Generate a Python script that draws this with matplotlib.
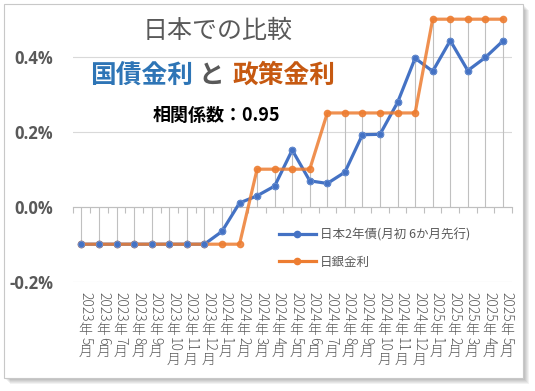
import matplotlib
matplotlib.use('Agg')
import matplotlib.pyplot as plt
from matplotlib.font_manager import FontProperties
from matplotlib.patches import Rectangle
import numpy as np

plt.rcParams['font.family'] = ['Noto Sans CJK JP', 'DejaVu Sans']

# data (percent)
years = ['2023'] * 8 + ['2024'] * 12 + ['2025'] * 5
months = ['5', '6', '7', '8', '9', '10', '11', '12',
          '1', '2', '3', '4', '5', '6', '7', '8', '9', '10', '11', '12',
          '1', '2', '3', '4', '5']
jgb2y = [-0.10, -0.10, -0.10, -0.10, -0.10, -0.10, -0.10, -0.10,
         -0.066, 0.010, 0.029, 0.055, 0.151, 0.069, 0.062, 0.092,
         0.192, 0.193, 0.278, 0.396, 0.361, 0.443, 0.363, 0.398, 0.442]
boj_rate = [-0.10, -0.10, -0.10, -0.10, -0.10, -0.10, -0.10, -0.10,
            -0.10, -0.10, 0.10, 0.10, 0.10, 0.10, 0.25, 0.25,
            0.25, 0.25, 0.25, 0.25, 0.50, 0.50, 0.50, 0.50, 0.50]
yticks = [-0.2, 0.0, 0.2, 0.4]

W, H = 535, 391
BLUE = '#4472C4'
ORANGE = '#ED7D31'
GRAY = '#595959'


def fx(px):
    return px / W


def fy(py):
    return 1 - py / H


fig = plt.figure(figsize=(W / 100, H / 100), dpi=100)
fig.patch.set_facecolor('white')

# card with drop shadow
for k in range(6):
    fig.patches.append(Rectangle((fx(4.3 + 1 + k), fy(377.7 + 1 + k)), fx(519), 373.4 / H,
                                 transform=fig.transFigure, facecolor='black',
                                 alpha=0.05, edgecolor='none', zorder=-3))
fig.patches.append(Rectangle((fx(4.3), fy(377.7)), fx(519), 373.4 / H,
                             transform=fig.transFigure, facecolor='white',
                             edgecolor='#c8c8c8', linewidth=0.8, zorder=-2))

ax = fig.add_axes([fx(72.7), fy(281.7), fx(511.7 - 72.7), (281.7 - 19.2) / H])
ax.set_facecolor('none')
x = np.arange(len(months))

ax.set_xlim(-0.5, len(months) - 0.5)
ax.set_ylim(-0.2, 0.5)

# drop lines
top = np.maximum(jgb2y, boj_rate)
ax.vlines(x, 0, top, color='#c0c0c0', linewidth=0.8, zorder=1)

ax.plot(x, jgb2y, color=BLUE, linewidth=2.3, zorder=3, label='日本2年債(月初 6か月先行)',
        marker='o', markersize=4.5)
ax.plot(x, boj_rate, color=ORANGE, linewidth=2.3, alpha=0.85, zorder=4,
        marker='o', markersize=4.5, clip_on=False)
ax.plot(x, jgb2y, linestyle='none', marker='o', markersize=4.5, color=BLUE,
        markeredgecolor='#6a8fd0', markeredgewidth=0.6, zorder=5)

# legend (manual handles so the style stays clean)
h1 = plt.Line2D([], [], color=BLUE, linewidth=2.3, marker='o', markersize=4.5)
h2 = plt.Line2D([], [], color=ORANGE, linewidth=2.3, marker='o', markersize=4.5)
leg = ax.legend([h1, h2], ['日本2年債(月初 6か月先行)', '日銀金利'],
                loc='center left', bbox_to_anchor=(0.4706, 0.127),
                frameon=False, fontsize=9, handlelength=2.9, handletextpad=0.35,
                labelspacing=1.15, borderpad=0, borderaxespad=0, markerscale=1)
for t in leg.get_texts():
    t.set_color(GRAY)

# y axis
ax.set_yticks(yticks)
ax.set_yticklabels([f'{v:.1f}%' for v in yticks], fontfamily='Open Sans',
                   fontweight='bold', fontsize=12, color=GRAY)
ax.tick_params(axis='y', length=0, pad=14)
ax.yaxis.grid(True, color='#d9d9d9', linewidth=0.8)
ax.set_axisbelow(True)
for s in ['left', 'right', 'top']:
    ax.spines[s].set_visible(False)

# category axis crossing at 0
ax.spines['bottom'].set_position(('data', 0))
ax.spines['bottom'].set_color('#bfbfbf')
ax.spines['bottom'].set_linewidth(0.8)
ax.set_xticks(x)
ax.set_xticklabels([])
ax.tick_params(axis='x', which='major', length=0)
ax.set_xticks(np.arange(len(months) + 1) - 0.5, minor=True)
ax.tick_params(axis='x', which='minor', length=4, direction='out', color='#bfbfbf', width=0.8)

# stacked vertical category labels
fp = FontProperties(family=['Noto Sans CJK JP'], weight='light', size=10)
renderer = fig.canvas.get_renderer()
em = 10 * 100 / 72 * 0.98
for i, (yr, mo) in enumerate(zip(years, months)):
    cur = 9.5
    for s, rot in [(yr, True), ('年', False), (mo, True), ('月', False)]:
        if rot:
            w = renderer.get_text_width_height_descent(s, fp, ismath=False)[0] * 1.08
        else:
            w = em
        ax.annotate(s, xy=(i, 0), xycoords=('data', 'axes fraction'),
                    xytext=(4, -(cur + w / 2)), textcoords='offset pixels',
                    rotation=-90 if rot else 0, ha='center', va='center',
                    fontproperties=fp, color=GRAY, annotation_clip=False)
        cur += w

# titles
fig.text(fx(218), fy(31.3), '日本での比較', fontsize=18, color=GRAY,
         ha='center', va='center')
fig.text(fx(90.5), fy(75), '国債金利', fontsize=18.5, fontweight='bold',
         color='#2E75B6', ha='left', va='center')
fig.text(fx(211.5), fy(75), 'と', fontsize=18.5, fontweight='bold',
         color=GRAY, ha='center', va='center')
fig.text(fx(232), fy(75), '政策金利', fontsize=18.5, fontweight='bold',
         color='#C65911', ha='left', va='center')
fig.text(fx(216.7), fy(115.7), '相関係数：0.95', fontsize=13, fontweight='bold',
         color='black', ha='center', va='center')

fig.savefig('out.png', dpi=100)
